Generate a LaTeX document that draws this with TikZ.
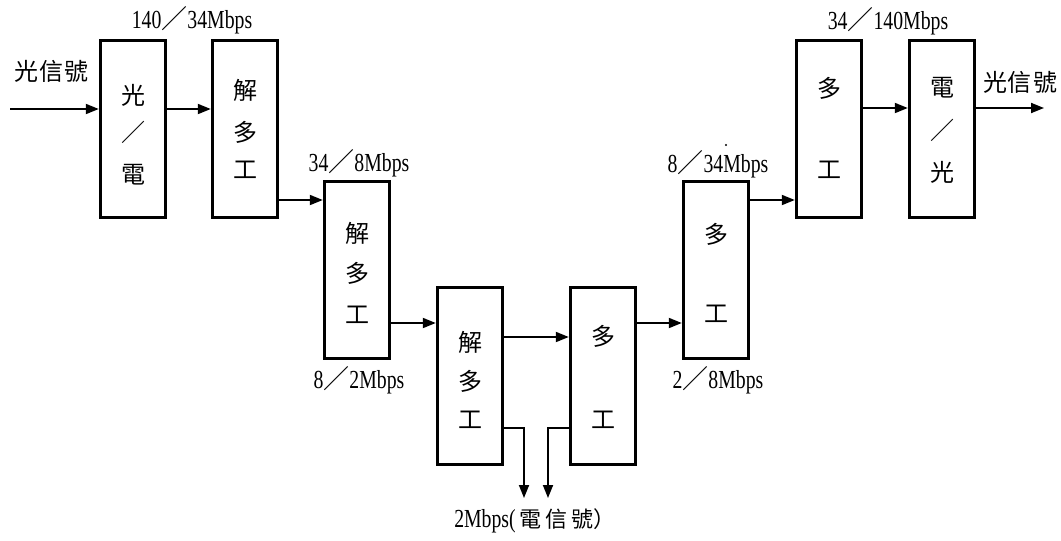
\documentclass[tikz,border=0pt]{standalone}
\usepackage{fontspec}
\setmainfont{Liberation Serif}
\newfontfamily\cjk{Noto Sans CJK TC}
\newfontfamily\lbl[FakeStretch=0.76]{Liberation Serif}
\usetikzlibrary{arrows.meta}
\begin{document}
\begin{tikzpicture}[x=1pt,y=-1pt,
  blk/.style={draw,line width=3.4pt,minimum width=65pt,minimum height=177pt,inner sep=0pt},
  ch/.style={font=\cjk\fontsize{24}{24}\selectfont,inner sep=0pt},
  rate/.style={font=\lbl\fontsize{26}{26}\selectfont,inner sep=0pt},
  flow/.style={line width=1.8pt,-{Triangle[length=13pt,width=10pt]}}]
\useasboundingbox (0,0) rectangle (1061,541);
% boxes
\node[blk] (b1) at (133,129) {};
\node[blk] (b2) at (245,129) {};
\node[blk] (b3) at (357,270) {};
\node[blk] (b4) at (470,376) {};
\node[blk] (b5) at (603,376) {};
\node[blk] (b6) at (716,270) {};
\node[blk] (b7) at (829,129) {};
\node[blk] (b8) at (942,129) {};
% box texts
\node[ch] (t1a) at (133,95) {光};
\node[ch] (t1b) at (133,132) {／};
\node[ch] (t1c) at (133,175) {電};
\node[ch] (t2a) at (245,90) {解};
\node[ch] (t2b) at (245,132) {多};
\node[ch] (t2c) at (245,170) {工};
\node[ch] (t3a) at (357,233) {解};
\node[ch] (t3b) at (357,273) {多};
\node[ch] (t3c) at (357,315) {工};
\node[ch] (t4a) at (470,342) {解};
\node[ch] (t4b) at (470,381) {多};
\node[ch] (t4c) at (470,420) {工};
\node[ch] (t5a) at (603,336) {多};
\node[ch] (t5b) at (603,420) {工};
\node[ch] (t6a) at (716,234) {多};
\node[ch] (t6b) at (716,314) {工};
\node[ch] (t7a) at (829,88) {多};
\node[ch] (t7b) at (829,170) {工};
\node[ch] (t8a) at (942,88) {電};
\node[ch] (t8b) at (942,130) {／};
\node[ch] (t8c) at (942,172) {光};
% labels
\node[ch] (inlbl) at (52,71) {光\hspace{1pt}信\hspace{1pt}號};
\node[ch] (outlbl) at (1020,82) {光\hspace{1pt}信\hspace{1pt}號};
\node[rate] (r1) at (192,20) {140{\cjk ／}34Mbps};
\node[rate] (r2) at (359,163) {34{\cjk ／}8Mbps};
\node[rate] (r3) at (359,380) {8{\cjk ／}2Mbps};
\node[rate] (r4) at (718,164) {8{\cjk ／}34Mbps};
\node[rate] (r5) at (718,380) {2{\cjk ／}8Mbps};
\node[rate] (r6) at (888,21) {34{\cjk ／}140Mbps};
\node[rate] (r7) at (535,521) {2Mbps({\cjk\fontsize{22}{22}\selectfont\hspace{4pt}電\hspace{4pt}信\hspace{4pt}號）}};
\node[circle,fill,inner sep=0pt,minimum size=2.4pt] (speck) at (726,145) {};
% coordinates
\coordinate (inL) at (10,109);
\coordinate (outR) at (1044,108);
\coordinate (d1) at (524,498);
\coordinate (d2) at (548,498);
% connectors
\draw[flow] (inL) -- (inL -| b1.west);
\draw[flow] (b1.east |- inL) -- (b2.west |- inL);
\draw[flow] (b2.east |- 0,200) -- (b3.west |- 0,200);
\draw[flow] (b3.east |- 0,323) -- (b4.west |- 0,323);
\draw[flow] (b4.east |- 0,337) -- (b5.west |- 0,337);
\draw[flow] (b5.east |- 0,323) -- (b6.west |- 0,323);
\draw[flow] (b6.east |- 0,200) -- (b7.west |- 0,200);
\draw[flow] (b7.east |- outR) -- (b8.west |- outR);
\draw[flow] (b8.east |- outR) -- (outR);
\draw[flow] (b4.east |- 0,428) -| (d1);
\draw[flow] (b5.west |- 0,428) -| (d2);
\end{tikzpicture}
\end{document}
